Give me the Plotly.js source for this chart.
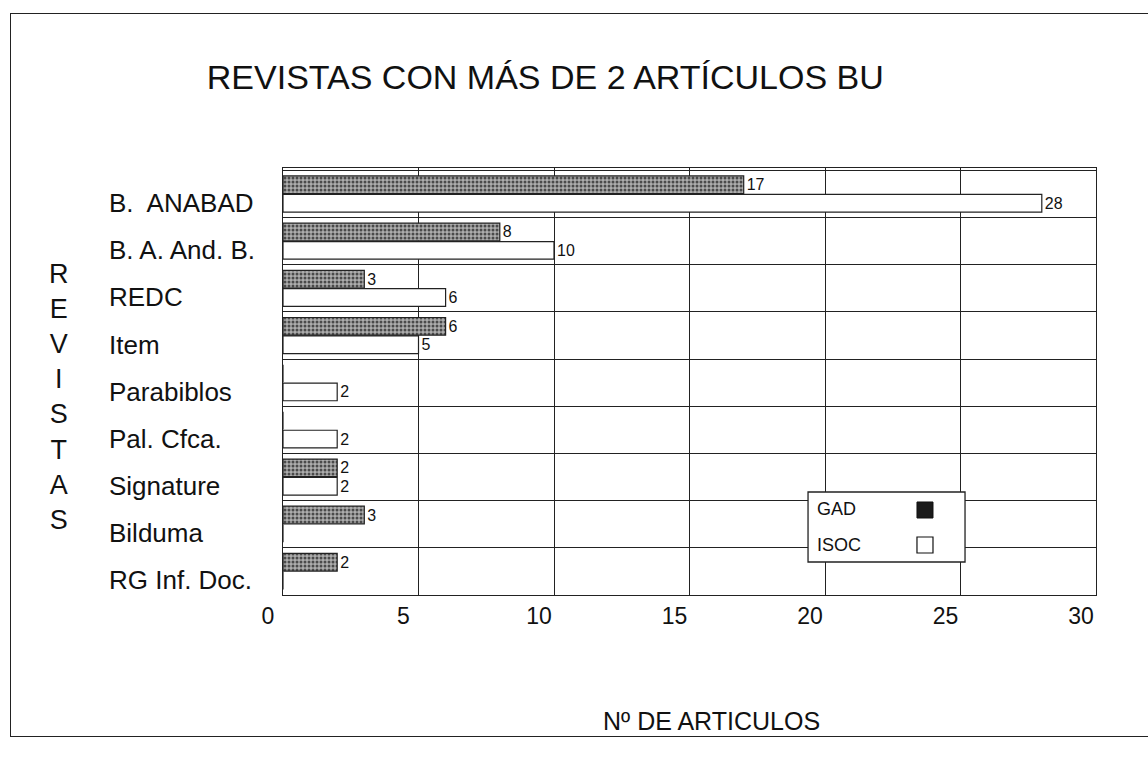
<!DOCTYPE html>
<html>
<head>
<meta charset="utf-8">
<script src="https://cdn.plot.ly/plotly-3.0.1.min.js"></script>
<style>
  body { margin: 0; background: #fff; overflow: hidden; }
  #frame { position: absolute; left: 10px; top: 13px; width: 1160px; height: 724px;
           border: 1.5px solid #222; box-sizing: border-box; pointer-events: none; z-index: 2; }
  #chart { position: absolute; left: 0; top: 0; }
</style>
</head>
<body>
<div id="chart"></div>
<div id="frame"></div>
<script>
// revistas, de arriba abajo
var revistas = ['B.\u00a0 ANABAD', 'B. A. And. B.', 'REDC', 'Item', 'Parabiblos',
                'Pal. Cfca.', 'Signature', 'Bilduma', 'RG Inf. Doc.'];
var gad  = [17, 8, 3, 6, 0, 0, 2, 3, 2];
var isoc = [28, 10, 6, 5, 2, 2, 2, 0, 0];
var xticks = [0, 5, 10, 15, 20, 25, 30];

function labels(arr) {
    return arr.map(v => v > 0 ? String(v) : '');
}

var font = 'Liberation Sans, Arial, sans-serif';

var trace1 = {
    type: 'bar',
    orientation: 'h',
    name: 'GAD',
    y: revistas,
    x: gad,
    text: labels(gad),
    textposition: 'outside',
    cliponaxis: false,
    textfont: {size: 19, color: '#111'},
    marker: {
        color: '#a0a0a0',
        pattern: {shape: '.', fgcolor: '#4a4a4a', bgcolor: '#adadad', size: 4, solidity: 0.45},
        line: {color: '#222', width: 1.2}
    }
};

var trace2 = {
    type: 'bar',
    orientation: 'h',
    name: 'ISOC',
    y: revistas,
    x: isoc,
    text: labels(isoc),
    textposition: 'outside',
    cliponaxis: false,
    textfont: {size: 19, color: '#111'},
    marker: {color: '#ffffff', line: {color: '#222', width: 1.2}}
};

// etiquetas de las revistas alineadas a la izquierda
var annots = revistas.map(r => ({
    text: r, xref: 'paper', x: -0.217, xanchor: 'left',
    yref: 'y', y: r, yshift: -9, showarrow: false,
    font: {size: 26, color: '#111', family: font}
}));
annots.push({
    text: 'R<br>E<br>V<br>I<br>S<br>T<br>A<br>S',
    xref: 'paper', x: -0.276, xanchor: 'center', yref: 'paper', y: 0.464,
    showarrow: false, font: {size: 27, color: '#111', family: font}
});
annots.push({
    text: 'Nº DE ARTICULOS', xref: 'paper', yref: 'paper', x: 0.5265, y: -0.295,
    xanchor: 'center', yanchor: 'middle', showarrow: false,
    font: {size: 25, color: '#111', family: font}
});
// leyenda: texto a la izquierda, muestra a la derecha
annots.push({text: 'GAD', xref: 'paper', yref: 'paper', x: 0.654, y: 0.201,
             xanchor: 'left', yanchor: 'middle', showarrow: false,
             font: {size: 18, color: '#111', family: font}});
annots.push({text: 'ISOC', xref: 'paper', yref: 'paper', x: 0.654, y: 0.117,
             xanchor: 'left', yanchor: 'middle', showarrow: false,
             font: {size: 18, color: '#111', family: font}});

var shapes = [
    {type: 'rect', xref: 'paper', yref: 'paper', x0: 0.6458, x1: 0.8389, y0: 0.0773, y1: 0.2412,
     fillcolor: '#fff', line: {color: '#222', width: 1.3}, layer: 'above'},
    {type: 'rect', xref: 'paper', yref: 'paper', x0: 0.7798, x1: 0.7995, y0: 0.1803, y1: 0.2178,
     fillcolor: '#1a1a1a', line: {color: '#111', width: 1}, layer: 'above'},
    {type: 'rect', xref: 'paper', yref: 'paper', x0: 0.7798, x1: 0.7995, y0: 0.0984, y1: 0.1358,
     fillcolor: '#fff', line: {color: '#111', width: 1.2}, layer: 'above'}
];

var layout = {
    width: 1148,
    height: 769,
    margin: {l: 283, r: 52, t: 168, b: 174},
    paper_bgcolor: '#fff',
    plot_bgcolor: '#fff',
    font: {family: font, color: '#111'},
    title: {
        text: 'REVISTAS CON MÁS DE 2 ARTÍCULOS BU',
        xref: 'container', x: 0.475, xanchor: 'center',
        yref: 'container', y: 0.900, yanchor: 'middle',
        font: {size: 34, color: '#111', family: font}
    },
    barmode: 'group',
    bargap: 0.22,
    bargroupgap: 0.04,
    xaxis: {
        range: [0, 30],
        tickvals: xticks,
        ticks: '',
        showgrid: true,
        gridcolor: '#222',
        gridwidth: 1,
        zeroline: false,
        showline: true,
        linecolor: '#222',
        linewidth: 1.2,
        mirror: true,
        ticklabelshift: -15,
        tickfont: {size: 23, color: '#111'},
        fixedrange: true
    },
    yaxis: {
        type: 'category',
        autorange: 'reversed',
        tickson: 'boundaries',
        showticklabels: false,
        ticks: '',
        showgrid: true,
        gridcolor: '#222',
        gridwidth: 1,
        showline: true,
        linecolor: '#222',
        linewidth: 1.2,
        mirror: true,
        fixedrange: true
    },
    showlegend: false,
    annotations: annots,
    shapes: shapes
};

Plotly.newPlot('chart', [trace1, trace2], layout, {displayModeBar: false, staticPlot: true});
</script>
</body>
</html>
